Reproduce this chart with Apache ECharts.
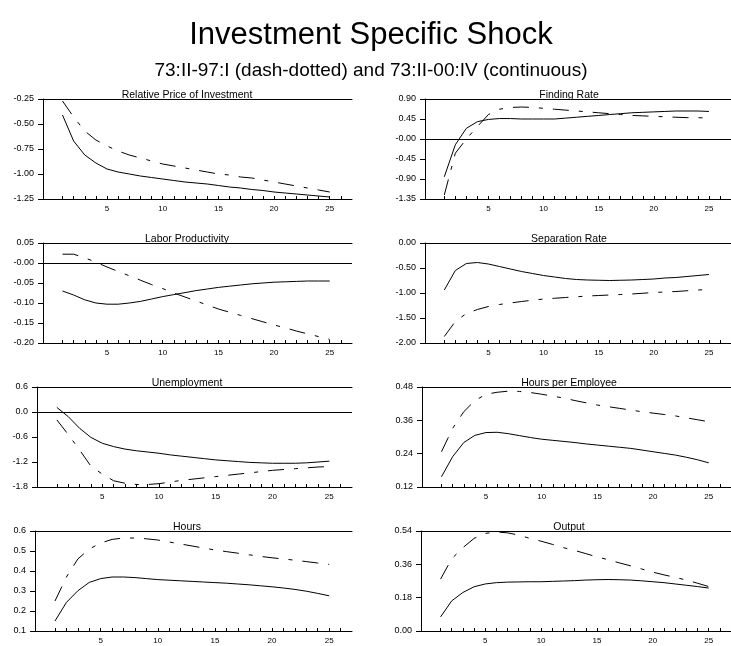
<!DOCTYPE html>
<html>
<head>
<meta charset="utf-8">
<script src="https://cdn.jsdelivr.net/npm/echarts@6/dist/echarts.min.js"></script>
<style>
html,body{margin:0;padding:0;background:#fff;}
#chart{width:731px;height:646px;}
</style>
</head>
<body>
<div id="chart"></div>
<script>
// ---------- data ----------
const periods = [1,2,3,4,5,6,7,8,9,10,11,12,13,14,15,16,17,18,19,20,21,22,23,24,25];
const xTickValues = [1,2,3,4,5,6,7,8,9,10,11,12,13,14,15,16,17,18,19,20,21,22,23,24,25,26];
const xLabelValues = [5,10,15,20,25];

const panelTitles = ['Relative Price of Investment','Finding Rate','Labor Productivity','Separation Rate',
                     'Unemployment','Hours per Employee','Hours','Output'];

// continuous = 73:II-00:IV, dashed = 73:II-97:I
const relPriceSolid  = [-0.41,-0.67,-0.81,-0.89,-0.95,-0.98,-1.00,-1.02,-1.035,-1.05,-1.065,-1.08,-1.09,-1.10,-1.115,-1.13,-1.14,-1.155,-1.165,-1.18,-1.19,-1.20,-1.21,-1.22,-1.23];
const relPriceDashed = [-0.27,-0.43,-0.57,-0.66,-0.72,-0.77,-0.81,-0.84,-0.87,-0.90,-0.92,-0.94,-0.96,-0.98,-1.00,-1.01,-1.03,-1.04,-1.06,-1.08,-1.10,-1.12,-1.14,-1.16,-1.18];
const findingSolid   = [-0.85,-0.13,0.24,0.39,0.44,0.46,0.46,0.45,0.45,0.45,0.45,0.47,0.49,0.51,0.53,0.55,0.57,0.59,0.60,0.61,0.62,0.63,0.63,0.63,0.62];
const findingDashed  = [-1.26,-0.32,0.00,0.28,0.55,0.67,0.71,0.72,0.71,0.69,0.67,0.65,0.63,0.61,0.59,0.57,0.55,0.53,0.52,0.51,0.50,0.49,0.48,0.48,0.47];
const laborSolid     = [-0.070,-0.080,-0.092,-0.100,-0.103,-0.103,-0.100,-0.096,-0.090,-0.084,-0.079,-0.074,-0.069,-0.065,-0.061,-0.058,-0.055,-0.052,-0.050,-0.048,-0.047,-0.046,-0.045,-0.045,-0.045];
const laborDashed    = [0.022,0.022,0.013,0.002,-0.010,-0.021,-0.032,-0.043,-0.054,-0.064,-0.075,-0.085,-0.095,-0.105,-0.115,-0.123,-0.131,-0.139,-0.147,-0.155,-0.162,-0.170,-0.177,-0.184,-0.191];
const separSolid     = [-0.94,-0.55,-0.41,-0.39,-0.42,-0.47,-0.52,-0.57,-0.61,-0.65,-0.68,-0.71,-0.73,-0.74,-0.745,-0.75,-0.745,-0.74,-0.73,-0.72,-0.70,-0.69,-0.67,-0.65,-0.63];
const separDashed    = [-1.87,-1.57,-1.41,-1.33,-1.27,-1.23,-1.20,-1.17,-1.145,-1.12,-1.105,-1.09,-1.075,-1.06,-1.05,-1.04,-1.03,-1.02,-1.005,-0.99,-0.98,-0.97,-0.955,-0.94,-0.93];
const unempSolid     = [0.11,-0.11,-0.39,-0.61,-0.75,-0.83,-0.89,-0.93,-0.96,-0.99,-1.03,-1.06,-1.09,-1.12,-1.15,-1.17,-1.19,-1.21,-1.22,-1.23,-1.23,-1.23,-1.22,-1.20,-1.18];
const unempDashed    = [-0.19,-0.54,-0.91,-1.30,-1.49,-1.65,-1.71,-1.74,-1.74,-1.72,-1.68,-1.64,-1.61,-1.58,-1.55,-1.52,-1.49,-1.46,-1.43,-1.40,-1.38,-1.36,-1.34,-1.32,-1.31];
const hpeSolid       = [0.157,0.229,0.280,0.306,0.316,0.317,0.312,0.305,0.298,0.292,0.288,0.284,0.280,0.275,0.271,0.267,0.263,0.259,0.253,0.247,0.241,0.235,0.227,0.218,0.207];
const hpeDashed      = [0.247,0.331,0.391,0.431,0.454,0.461,0.465,0.464,0.460,0.454,0.447,0.440,0.431,0.423,0.415,0.409,0.403,0.397,0.391,0.386,0.381,0.376,0.369,0.362,0.355];
const hoursSolid     = [0.150,0.243,0.301,0.343,0.362,0.370,0.370,0.367,0.362,0.357,0.354,0.351,0.348,0.345,0.342,0.339,0.335,0.331,0.326,0.321,0.315,0.308,0.299,0.288,0.276];
const hoursDashed    = [0.25,0.37,0.46,0.51,0.54,0.558,0.565,0.565,0.561,0.555,0.545,0.535,0.525,0.515,0.505,0.497,0.489,0.481,0.473,0.466,0.46,0.454,0.447,0.44,0.433];
const outputSolid    = [0.076,0.163,0.208,0.239,0.254,0.261,0.264,0.265,0.266,0.266,0.268,0.27,0.272,0.275,0.277,0.278,0.277,0.275,0.271,0.266,0.261,0.254,0.247,0.24,0.232];
const outputDashed   = [0.28,0.39,0.45,0.50,0.527,0.535,0.53,0.518,0.50,0.485,0.468,0.45,0.435,0.418,0.40,0.385,0.368,0.352,0.335,0.318,0.303,0.29,0.275,0.258,0.24];

// y tick labels (top to bottom)
const relPriceTicks = ['-0.25','-0.50','-0.75','-1.00','-1.25'];
const findingTicks  = ['0.90','0.45','-0.00','-0.45','-0.90','-1.35'];
const laborTicks    = ['0.05','-0.00','-0.05','-0.10','-0.15','-0.20'];
const separTicks    = ['0.00','-0.50','-1.00','-1.50','-2.00'];
const unempTicks    = ['0.6','0.0','-0.6','-1.2','-1.8'];
const hpeTicks      = ['0.48','0.36','0.24','0.12'];
const hoursTicks    = ['0.6','0.5','0.4','0.3','0.2','0.1'];
const outputTicks   = ['0.54','0.36','0.18','0.00'];

// ---------- build ----------
const panels = [
  {solid: relPriceSolid, dashed: relPriceDashed, ticks: relPriceTicks, max:-0.25, interval:0.25, zero:false},
  {solid: findingSolid,  dashed: findingDashed,  ticks: findingTicks,  max:0.90,  interval:0.45, zero:true},
  {solid: laborSolid,    dashed: laborDashed,    ticks: laborTicks,    max:0.05,  interval:0.05, zero:true},
  {solid: separSolid,    dashed: separDashed,    ticks: separTicks,    max:0.00,  interval:0.50, zero:false},
  {solid: unempSolid,    dashed: unempDashed,    ticks: unempTicks,    max:0.6,   interval:0.6,  zero:true},
  {solid: hpeSolid,      dashed: hpeDashed,      ticks: hpeTicks,      max:0.48,  interval:0.12, zero:false},
  {solid: hoursSolid,    dashed: hoursDashed,    ticks: hoursTicks,    max:0.6,   interval:0.1,  zero:false},
  {solid: outputSolid,   dashed: outputDashed,   ticks: outputTicks,   max:0.54,  interval:0.18, zero:false}
];
// layout (pixels)
const gridLeft  = [43, 425, 43, 425, 37, 422, 35, 421];
const gridRight = [352, 735, 352, 735, 352, 735, 352, 735];
const rowTop    = [99, 243, 387, 531];
const plotH = 100;
const X_MIN = -0.75, X_MAX = 27;
const FONT = '"Liberation Sans", Arial, sans-serif';

const grids = [], xAxes = [], yAxes = [], series = [], titles = [];

titles.push({text:'Investment Specific Shock', left:366, top:30, textAlign:'center', textVerticalAlign:'middle',
  textStyle:{fontFamily:FONT, fontSize:31, fontWeight:'normal', color:'#000'}});
titles.push({text:'73:II-97:I (dash-dotted) and 73:II-00:IV (continuous)', left:366, top:66, textAlign:'center', textVerticalAlign:'middle',
  textStyle:{fontFamily:FONT, fontSize:19, fontWeight:'normal', color:'#000'}});

panels.forEach((p, i) => {
  const row = Math.floor(i / 2), col = i % 2;
  const top = rowTop[row];
  const n = p.ticks.length;
  const ymax = p.max, ymin = +(p.max - p.interval * (n - 1)).toFixed(6);
  grids.push({left: gridLeft[i], top: top, width: gridRight[i] - gridLeft[i], height: plotH});
  titles.push({text: panelTitles[i], left: col === 0 ? 182 : 564, top: top - 9, textAlign:'center', textVerticalAlign:'middle',
    textStyle:{fontFamily:FONT, fontSize:10.5, fontWeight:'normal', color:'#000'}});
  // bottom x axis
  xAxes.push({gridIndex:i, type:'value', position:'bottom', min:X_MIN, max:X_MAX,
    splitLine:{show:false},
    axisLine:{show:true, onZero:false, lineStyle:{color:'#000', width:1}},
    axisTick:{show:true, inside:true, length:3, customValues: xTickValues, lineStyle:{color:'#000'}},
    axisLabel:{show:true, customValues: xLabelValues, margin:6, fontFamily:FONT, fontSize:8, color:'#000'}});
  // top frame line
  xAxes.push({gridIndex:i, type:'value', position:'top', min:X_MIN, max:X_MAX,
    splitLine:{show:false},
    axisLine:{show:true, onZero:false, lineStyle:{color:'#000', width:1}},
    axisTick:{show:false}, axisLabel:{show:false}});
  const ticks = p.ticks;
  yAxes.push({gridIndex:i, type:'value', min:ymin, max:ymax, interval:p.interval,
    splitLine:{show:false},
    axisLine:{show:true, onZero:false, lineStyle:{color:'#000', width:1}},
    axisTick:{show:true, inside:false, length:5, lineStyle:{color:'#000'}},
    axisLabel:{show:true, margin:9, fontFamily:FONT, fontSize:9, color:'#000',
      formatter: v => { const k = Math.round((ymax - v) / p.interval); return ticks[k] !== undefined ? ticks[k] : ''; }}});
  const solidSeries = {type:'line', xAxisIndex:2*i, yAxisIndex:i, showSymbol:false, symbol:'none', silent:true,
    data: periods.map((x, j) => [x, p.solid[j]]),
    lineStyle:{color:'#000', width:1, type:'solid'}, z:3};
  if (p.zero) {
    solidSeries.markLine = {silent:true, symbol:['none','none'], label:{show:false},
      lineStyle:{color:'#000', width:1, type:'solid'}, data:[{yAxis:0}]};
  }
  series.push(solidSeries);
  series.push({type:'line', xAxisIndex:2*i, yAxisIndex:i, showSymbol:false, symbol:'none', silent:true,
    data: periods.map((x, j) => [x, p.dashed[j]]),
    lineStyle:{color:'#000', width:1, type:[16,10,4,10]}, z:3});
});

const chart = echarts.init(document.getElementById('chart'), null, {renderer:'canvas'});
chart.setOption({
  animation:false,
  backgroundColor:'#fff',
  title: titles,
  grid: grids,
  xAxis: xAxes,
  yAxis: yAxes,
  series: series
});
</script>
</body>
</html>
